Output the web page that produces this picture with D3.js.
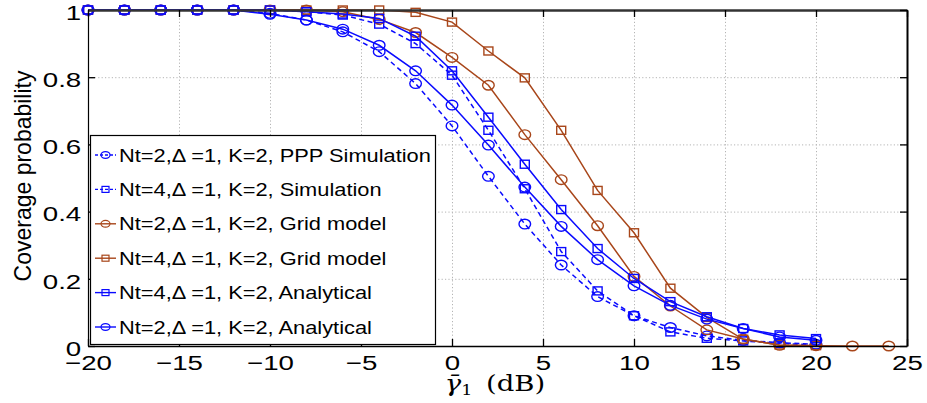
<!DOCTYPE html>
<html>
<head>
<meta charset="utf-8">
<script src="https://cdn.jsdelivr.net/npm/d3@7"></script>
<style>
  html, body { margin: 0; padding: 0; background: #fff; }
  svg { display: block; }
  .tick-label { font-family: "Liberation Sans", Arial, sans-serif; font-size: 20.5px; fill: #000; }
</style>
</head>
<body>
<svg id="chart" width="927" height="403"></svg>
<script>
// SNR thresholds (dB) at which coverage was evaluated
const snrDb = [-20, -18, -16, -14, -12, -10, -8, -6, -4, -2, 0, 2, 4, 6, 8, 10, 12, 14, 16, 18, 20];
const snrDbGrid2 = [-20, -18, -16, -14, -12, -10, -8, -6, -4, -2, 0, 2, 4, 6, 8, 10, 12, 14, 16, 18, 20, 22, 24];

// Coverage probability per configuration
const pppSimNt2 = [1, 1, 1, 1, 1, 0.99, 0.97, 0.935, 0.876, 0.781, 0.655, 0.505, 0.363, 0.241, 0.147, 0.09, 0.055, 0.03, 0.017, 0.01, 0.005];
const simNt4 = [1, 1, 1, 1, 1, 1, 0.995, 0.985, 0.958, 0.90, 0.806, 0.642, 0.468, 0.281, 0.164, 0.09, 0.042, 0.023, 0.015, 0.008, 0.003];
const gridNt2 = [1, 1, 1, 1, 1, 1, 1, 0.995, 0.972, 0.933, 0.859, 0.776, 0.629, 0.495, 0.358, 0.207, 0.119, 0.048, 0.021, 0.002, 0.001, 0, 0];
const gridNt4 = [1, 1, 1, 1, 1, 1, 1, 1, 1, 0.993, 0.964, 0.878, 0.798, 0.642, 0.463, 0.337, 0.172, 0.085, 0.02, 0.003, 0.001];
const analyticNt4 = [1, 1, 1, 1, 1, 1, 0.995, 0.988, 0.975, 0.922, 0.819, 0.681, 0.541, 0.406, 0.29, 0.201, 0.132, 0.087, 0.052, 0.033, 0.022];
const analyticNt2 = [1, 1, 1, 1, 1, 0.987, 0.97, 0.943, 0.895, 0.819, 0.717, 0.598, 0.473, 0.356, 0.257, 0.179, 0.121, 0.08, 0.052, 0.027, 0.017];

// Axis ticks
const xTicks = [-20, -15, -10, -5, 0, 5, 10, 15, 20, 25];
const yTicks = [0, 0.2, 0.4, 0.6, 0.8, 1];
const yTickLabels = ["0", "0.2", "0.4", "0.6", "0.8", "1"];

const legendLabels = [
  "Nt=2,\u0394 =1, K=2, PPP Simulation",
  "Nt=4,\u0394 =1, K=2, Simulation",
  "Nt=2,\u0394 =1, K=2, Grid model",
  "Nt=4,\u0394 =1, K=2, Grid model",
  "Nt=4,\u0394 =1, K=2, Analytical",
  "Nt=2,\u0394 =1, K=2, Analytical"
];

const BLUE = "#0a0aff";
const BROWN = "#a8461a";

const series = [
  { x: snrDb, y: pppSimNt2, color: BLUE, marker: "circle", dashed: true },
  { x: snrDb, y: simNt4, color: BLUE, marker: "square", dashed: true },
  { x: snrDbGrid2, y: gridNt2, color: BROWN, marker: "circle", dashed: false },
  { x: snrDb, y: gridNt4, color: BROWN, marker: "square", dashed: false },
  { x: snrDb, y: analyticNt4, color: BLUE, marker: "square", dashed: false },
  { x: snrDb, y: analyticNt2, color: BLUE, marker: "circle", dashed: false }
].map((s, i) => ({ ...s, label: legendLabels[i] }));

const svg = d3.select("#chart");
const plotL = 88, plotR = 907, plotT = 10, plotB = 346;
const x = d3.scaleLinear().domain([-20, 25]).range([plotL, plotR]);
const y = d3.scaleLinear().domain([0, 1]).range([plotB, plotT]);

const SX = 1.35; // horizontal stretch of tick lettering

// Dotted grid
svg.append("g")
  .attr("transform", `translate(0,${plotB})`)
  .call(d3.axisBottom(x).tickValues(xTicks.slice(1, -1)).tickSize(-(plotB - plotT)).tickFormat(""))
  .call(g => g.select(".domain").remove())
  .call(g => g.selectAll("line").attr("stroke", "#b4b4b4").attr("stroke-dasharray", "1.2,2.2"));
svg.append("g")
  .attr("transform", `translate(${plotL},0)`)
  .call(d3.axisLeft(y).tickValues(yTicks.slice(1, -1)).tickSize(-(plotR - plotL)).tickFormat(""))
  .call(g => g.select(".domain").remove())
  .call(g => g.selectAll("line").attr("stroke", "#b4b4b4").attr("stroke-dasharray", "1.2,2.2"));

// Series lines and markers
const line = d3.line().x(d => x(d[0])).y(d => y(d[1]));
series.forEach(s => {
  const pts = s.x.map((v, i) => [v, s.y[i]]);
  const g = svg.append("g");
  g.append("path")
    .attr("d", line(pts))
    .attr("fill", "none")
    .attr("stroke", s.color)
    .attr("stroke-width", 1.5)
    .attr("stroke-dasharray", s.dashed ? "5,3.5" : null);
  if (s.marker === "circle") {
    g.selectAll("ellipse").data(pts).join("ellipse")
      .attr("cx", d => x(d[0])).attr("cy", d => y(d[1]))
      .attr("rx", 5.8).attr("ry", 4.8)
      .attr("fill", "none").attr("stroke", s.color).attr("stroke-width", 1.4);
  } else {
    g.selectAll("rect").data(pts).join("rect")
      .attr("x", d => x(d[0]) - 4.5).attr("y", d => y(d[1]) - 4)
      .attr("width", 9).attr("height", 8)
      .attr("fill", "none").attr("stroke", s.color).attr("stroke-width", 1.4);
  }
});

// Axes with inward ticks
const TICK = 7;
const xAxis = svg.append("g")
  .attr("transform", `translate(0,${plotB})`)
  .call(d3.axisBottom(x).tickValues(xTicks).tickSizeInner(-TICK).tickSizeOuter(0).tickPadding(9)
    .tickFormat(d3.format("d")));
xAxis.select(".domain").attr("stroke", "#000").attr("stroke-width", 1.6);
xAxis.selectAll("text").attr("class", "tick-label").attr("font-size", null).attr("font-family", null)
  .attr("transform", `scale(${SX},1)`);

const yAxis = svg.append("g")
  .attr("transform", `translate(${plotL},0)`)
  .call(d3.axisLeft(y).tickValues(yTicks).tickSizeInner(-TICK).tickSizeOuter(0).tickPadding(5)
    .tickFormat((d, i) => yTickLabels[i]));
yAxis.select(".domain").attr("stroke", "#000").attr("stroke-width", 1.2);
yAxis.selectAll("text").attr("class", "tick-label").attr("font-size", null).attr("font-family", null)
  .attr("dy", "0.45em")
  .attr("transform", `scale(${SX},1)`);

const topAxis = svg.append("g")
  .attr("transform", `translate(0,${plotT})`)
  .call(d3.axisTop(x).tickValues(xTicks).tickSizeInner(-TICK).tickSizeOuter(0).tickFormat(""));
topAxis.select(".domain").attr("stroke", "#333").attr("stroke-width", 2.4);

const rightAxis = svg.append("g")
  .attr("transform", `translate(${plotR},0)`)
  .call(d3.axisRight(y).tickValues(yTicks).tickSizeInner(-TICK).tickSizeOuter(0).tickFormat(""));
rightAxis.select(".domain").attr("stroke", "#000").attr("stroke-width", 2);
svg.selectAll(".tick line").filter(function () { return !this.getAttribute("stroke-dasharray"); })
  .attr("stroke", "#000").attr("stroke-width", 1.3);

// Axis titles
svg.append("text")
  .attr("transform", "translate(31,176) rotate(-90) scale(1.15,1.2)")
  .attr("text-anchor", "middle")
  .attr("font-family", "'Liberation Sans', Arial, sans-serif")
  .attr("font-size", 20)
  .text("Coverage probability");

const xTitle = svg.append("text")
  .attr("transform", "translate(495,391) scale(1.25,1)")
  .attr("text-anchor", "middle")
  .attr("font-family", "'DejaVu Serif', 'Liberation Serif', serif")
  .attr("font-size", 22);
xTitle.append("tspan").attr("font-style", "italic").text("\u03b3\u0304");
xTitle.append("tspan").attr("font-size", 14).attr("dy", 4).text("1");
xTitle.append("tspan").attr("dy", -4).text("\u2002(dB)");

// Legend
const lg = svg.append("g");
lg.append("rect")
  .attr("x", 90.5).attr("y", 135.5).attr("width", 345).attr("height", 209)
  .attr("fill", "#fff").attr("stroke", "#000").attr("stroke-width", 1.2);
series.forEach((s, i) => {
  const cy = 155 + i * 34.4;
  lg.append("line")
    .attr("x1", 95).attr("x2", 116).attr("y1", cy).attr("y2", cy)
    .attr("stroke", s.color).attr("stroke-width", 1.4)
    .attr("stroke-dasharray", s.dashed ? "3,2" : null);
  if (s.marker === "circle") {
    lg.append("ellipse").attr("cx", 105.5).attr("cy", cy).attr("rx", 4.5).attr("ry", 3.4)
      .attr("fill", "none").attr("stroke", s.color).attr("stroke-width", 1.2);
  } else {
    lg.append("rect").attr("x", 102).attr("y", cy - 3).attr("width", 7).attr("height", 6)
      .attr("fill", "none").attr("stroke", s.color).attr("stroke-width", 1.2);
  }
  lg.append("text")
    .attr("transform", `translate(119,${cy}) scale(1.18,1)`)
    .attr("dy", "0.36em")
    .attr("font-family", "'Liberation Sans', Arial, sans-serif")
    .attr("font-size", 18.5)
    .text(s.label);
});
</script>
</body>
</html>
